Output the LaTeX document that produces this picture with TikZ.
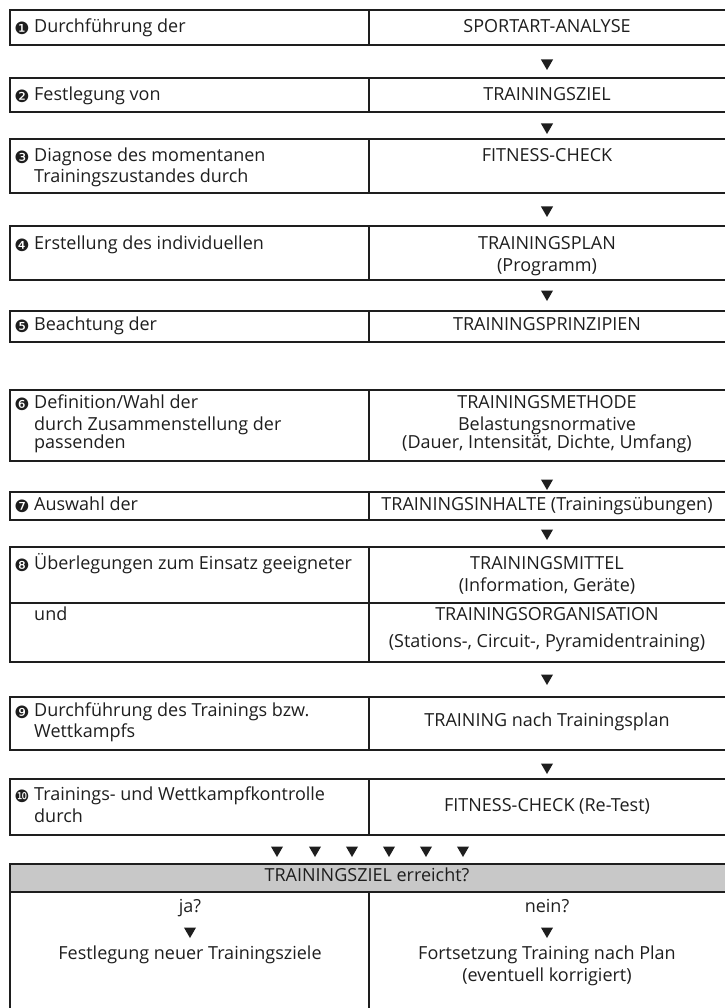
\documentclass[tikz,border=0pt]{standalone}
\usepackage{fontspec}
\setmainfont{Open Sans}
\newfontfamily\numfont{DejaVu Sans}
\usetikzlibrary{shapes.geometric}
\definecolor{boxgray}{RGB}{200,200,200}
\definecolor{ink}{RGB}{30,30,30}
\tikzset{
  frame/.style={draw=ink, line width=2.4pt},
  txt/.style={inner sep=0pt, text=ink, font=\fontsize{18}{21}\selectfont, text height=12pt, text depth=3pt},
  ltxt/.style={txt, anchor=west},
  ctxt/.style={txt, anchor=center},
  num/.style={inner sep=0pt, text=ink, font=\numfont\fontsize{17}{17}\selectfont},
  tri/.style={regular polygon, regular polygon sides=3, shape border rotate=180, fill=ink, inner sep=0pt, minimum size=14pt}
}
\begin{document}
\begin{tikzpicture}[x=1pt,y=-1pt]
\useasboundingbox (0,0) rectangle (724,1008);
% row frames
\draw[frame] (10,10) rectangle (728,45);   \draw[frame] (369,10) -- (369,45);
\draw[frame] (10,78) rectangle (728,112);  \draw[frame] (369,78) -- (369,112);
\draw[frame] (10,139) rectangle (728,193); \draw[frame] (369,139) -- (369,193);
\draw[frame] (10,226) rectangle (728,280); \draw[frame] (369,226) -- (369,280);
\draw[frame] (10,311) rectangle (728,342); \draw[frame] (369,311) -- (369,342);
\draw[frame] (10,390) rectangle (728,461); \draw[frame] (369,390) -- (369,461);
\draw[frame] (10,492) rectangle (728,520); \draw[frame] (369,492) -- (369,520);
\draw[frame] (10,547) rectangle (728,662); \draw[frame] (369,547) -- (369,662); \draw[frame] (10,603) -- (728,603);
\draw[frame] (10,697) rectangle (728,750); \draw[frame] (369,697) -- (369,750);
\draw[frame] (10,779) rectangle (728,835); \draw[frame] (369,779) -- (369,835);
\draw[frame, fill=boxgray] (10,864) rectangle (728,892);
\draw[frame] (10,892) -- (10,1012);
\draw[frame] (369,892) -- (369,1012);

% numbers
\node[num] (n1) at (22,28) {❶};
\node[num] (n2) at (22,96) {❷};
\node[num] (n3) at (22,157) {❸};
\node[num] (n4) at (22,245) {❹};
\node[num] (n5) at (22,326) {❺};
\node[num] (n6) at (22,404) {❻};
\node[num] (n7) at (22,506) {❼};
\node[num] (n8) at (22,565) {❽};
\node[num] (n9) at (22,712) {❾};
\node[num] (n10) at (22,796) {❿};

% left texts
\node[ltxt] (l1) at (34,28) {Durchführung der};
\node[ltxt] (l2) at (34,96) {Festlegung von};
\node[ltxt] (l3a) at (34,157) {Diagnose des momentanen};
\node[ltxt] (l3b) at (34,178) {Trainingszustandes durch};
\node[ltxt] (l4) at (34,245) {Erstellung des individuellen};
\node[ltxt] (l5) at (34,326) {Beachtung der};
\node[ltxt] (l6a) at (34,404) {Definition/Wahl der};
\node[ltxt] (l6b) at (34,426) {durch Zusammenstellung der};
\node[ltxt] (l6c) at (34,444) {passenden};
\node[ltxt] (l7) at (34,506) {Auswahl der};
\node[ltxt] (l8a) at (34,565) {Überlegungen zum Einsatz geeigneter};
\node[ltxt] (l8b) at (34,616) {und};
\node[ltxt] (l9a) at (34,712) {Durchführung des Trainings bzw.};
\node[ltxt] (l9b) at (34,733) {Wettkampfs};
\node[ltxt] (l10a) at (34,796) {Trainings- und Wettkampfkontrolle};
\node[ltxt] (l10b) at (34,818) {durch};

% right texts
\node[ctxt] (r1) at (547,28) {SPORTART-ANALYSE};
\node[ctxt] (r2) at (547,96) {TRAININGSZIEL};
\node[ctxt] (r3) at (547,157) {FITNESS-CHECK};
\node[ctxt] (r4a) at (547,245) {TRAININGSPLAN};
\node[ctxt] (r4b) at (547,267) {(Programm)};
\node[ctxt] (r5) at (547,326) {TRAININGSPRINZIPIEN};
\node[ctxt] (r6a) at (547,404) {TRAININGSMETHODE};
\node[ctxt] (r6b) at (547,426) {Belastungsnormative};
\node[ctxt] (r6c) at (547,444) {(Dauer, Intensität, Dichte, Umfang)};
\node[ctxt] (r7) at (547,506) {TRAININGSINHALTE (Trainingsübungen)};
\node[ctxt] (r8a) at (547,565) {TRAININGSMITTEL};
\node[ctxt] (r8b) at (547,587) {(Information, Geräte)};
\node[ctxt] (r8c) at (547,616) {TRAININGSORGANISATION};
\node[ctxt] (r8d) at (547,643) {(Stations-, Circuit-, Pyramidentraining)};
\node[ctxt] (r9) at (547,722) {TRAINING nach Trainingsplan};
\node[ctxt] (r10) at (547,807) {FITNESS-CHECK (Re-Test)};

% arrows
\node[tri] (t1) at (547,63) {};
\node[tri] (t2) at (547,127) {};
\node[tri] (t3) at (547,210) {};
\node[tri] (t4) at (547,294) {};
\node[tri] (t6) at (547,483) {};
\node[tri] (t7) at (547,533) {};
\node[tri] (t8) at (547,678) {};
\node[tri] (t9) at (547,767) {};
\foreach \i/\x in {1/277,2/315,3/352,4/389,5/426,6/463}
  \node[tri] (m\i) at (\x,850) {};

% decision
\node[ctxt] (q) at (367,877) {TRAININGSZIEL erreicht?};
\node[ctxt] (ja) at (190,908) {ja?};
\node[tri] (tja) at (190,931) {};
\node[ctxt] (jat) at (190,955) {Festlegung neuer Trainingsziele};
\node[ctxt] (nein) at (547,908) {nein?};
\node[tri] (tnein) at (547,931) {};
\node[ctxt] (neint) at (547,955) {Fortsetzung Training nach Plan};
\node[ctxt] (neint2) at (547,977) {(eventuell korrigiert)};
\end{tikzpicture}
\end{document}
